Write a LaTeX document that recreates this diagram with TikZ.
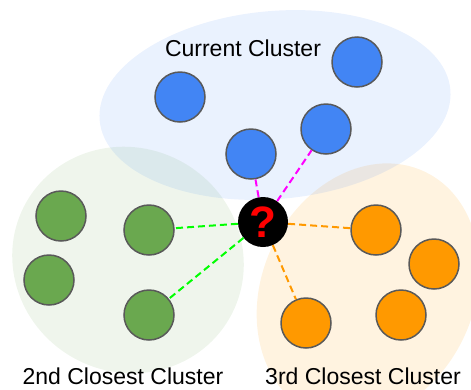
\documentclass[tikz,border=0pt]{standalone}
\usepackage{fontspec}
\setmainfont{Liberation Sans}
\usetikzlibrary{positioning}

\definecolor{ptblue}{HTML}{4285F4}
\definecolor{ptgreen}{HTML}{6AA84F}
\definecolor{ptorange}{HTML}{FF9900}
\definecolor{ptedge}{HTML}{595959}
\definecolor{linkpink}{HTML}{FF00FF}
\definecolor{linkgreen}{HTML}{00FF00}
\definecolor{qred}{HTML}{FF0000}

\begin{document}
\begin{tikzpicture}[x=1pt, y=-1pt,
        pt/.style={circle, draw=ptedge, line width=1.5pt, minimum size=50pt, inner sep=0pt},
        bluept/.style={pt, fill=ptblue},
        greenpt/.style={pt, fill=ptgreen},
        orangept/.style={pt, fill=ptorange},
        query/.style={circle, fill=black, minimum size=50pt, inner sep=0pt,
                      text=qred, font=\fontsize{44}{44}\selectfont\bfseries},
        label/.style={font=\fontsize{23}{27}\selectfont},
        link/.style={dash pattern=on 7pt off 4pt, line width=2pt}]
    \useasboundingbox (0,0) rectangle (471,389);
    % cluster zones
    \fill[ptgreen, fill opacity=0.11, rotate around={-30:(128,260)}]
        (128,260) ellipse [x radius=117pt, y radius=112pt];
    \fill[ptorange, fill opacity=0.12, rotate around={-25:(368,292)}]
        (368,292) ellipse [x radius=106pt, y radius=133pt];
    \fill[ptblue, fill opacity=0.11, rotate around={5:(275,105)}]
        (275,105) ellipse [x radius=176pt, y radius=94pt];
    % points
    \node[bluept] (b1) at (180,97) {};
    \node[bluept] (b2) at (357,62) {};
    \node[bluept] (b3) at (326,129) {};
    \node[bluept] (b4) at (251,154) {};
    \node[greenpt] (g1) at (61,216) {};
    \node[greenpt] (g2) at (149,230) {};
    \node[greenpt] (g3) at (49,280) {};
    \node[greenpt] (g4) at (149,315) {};
    \node[orangept] (o1) at (376,230) {};
    \node[orangept] (o2) at (434,264) {};
    \node[orangept] (o3) at (401,315) {};
    \node[orangept] (o4) at (306,323) {};
    \node[query] (q) at (263,222) {?};
    % links to nearest points
    \draw[link, linkpink] (q) -- (b4);
    \draw[link, linkpink] (q) -- (b3);
    \draw[link, linkgreen] (q) -- (g2);
    \draw[link, linkgreen] (q) -- (g4);
    \draw[link, ptorange] (q) -- (o1);
    \draw[link, ptorange] (q) -- (o4);
    % labels
    \node[label] (cur) at (243,48) {Current Cluster};
    \node[label] (second) at (123,376) {2nd Closest Cluster};
    \node[label] (third) at (363,376) {3rd Closest Cluster};
\end{tikzpicture}
\end{document}
